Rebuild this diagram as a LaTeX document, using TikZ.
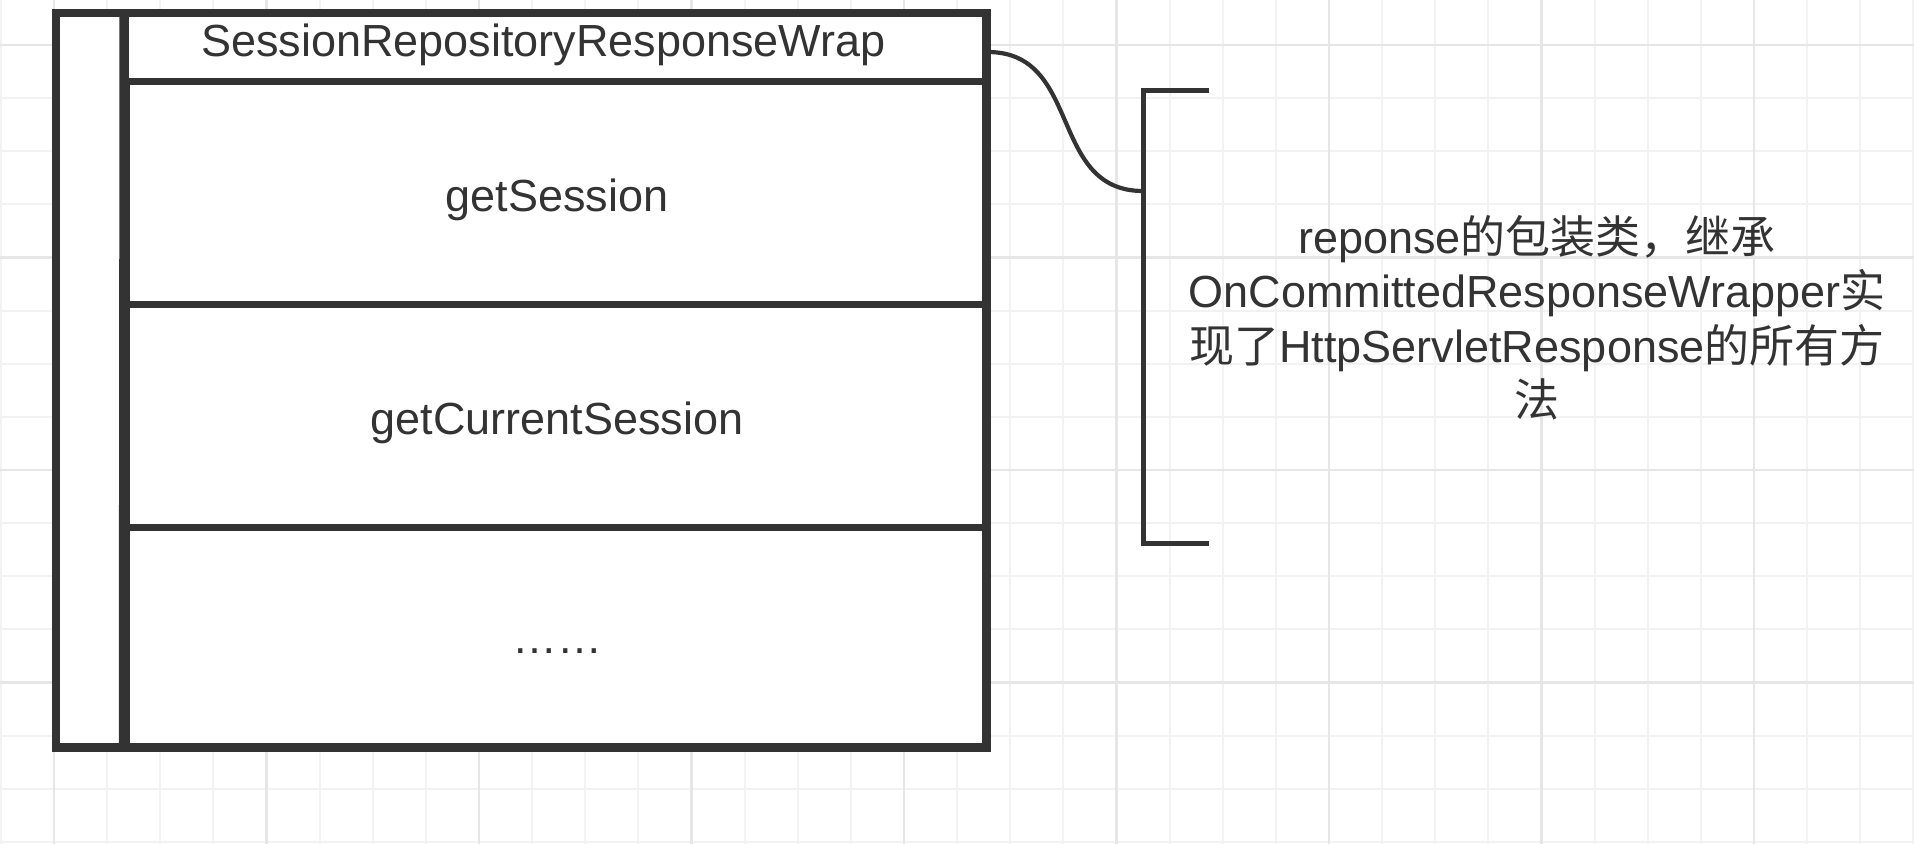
\documentclass[tikz,border=0pt]{standalone}
\usepackage{fontspec}
\setmainfont{Liberation Sans}
\newfontfamily\cjk{Noto Sans CJK SC}
\definecolor{ink}{HTML}{333333}
\definecolor{gridminor}{HTML}{F2F2F2}
\definecolor{gridmajor}{HTML}{E6E6E6}
\begin{document}
\begin{tikzpicture}[x=1pt,y=-1pt,
  minorline/.style={draw=gridminor, line width=2.2pt},
  majorline/.style={draw=gridmajor, line width=2.4pt},
  cell/.style={draw=ink, fill=white, line width=6pt, inner sep=0pt, rectangle},
  lbl/.style={text=ink, font=\fontsize{45}{54}\selectfont, inner sep=0pt, anchor=base},
  strokeline/.style={draw=ink, line width=5pt}]
\useasboundingbox (0,0) rectangle (1914,844);
\fill[white] (0,0) rectangle (1914,844);
% grid
\foreach \i in {0,...,36} \draw[minorline] (0.875+53.125*\i,0) -- (0.875+53.125*\i,844);
\foreach \j in {0,...,15} \draw[minorline] (0,45+53.125*\j) -- (1914,45+53.125*\j);
\foreach \m in {0,...,8} \draw[majorline] (54+212.5*\m,0) -- (54+212.5*\m,844);
\foreach \m in {0,...,3} \draw[majorline] (0,45+212.5*\m) -- (1914,45+212.5*\m);
% class box
\node[cell, line width=5.5pt, minimum width=928pt, minimum height=731.5pt] (box) at (521,380.25) {};
\node[cell, line width=5.5pt, minimum width=858.5pt, minimum height=67pt] (hdr) at (555.75,48) {};
\node[cell, line width=7pt, minimum width=858.5pt, minimum height=222.5pt] (row1) at (555.75,192.75) {};
\node[cell, line width=7pt, minimum width=858.5pt, minimum height=223pt] (row2) at (555.75,415.5) {};
\node[cell, line width=7pt, minimum width=858.5pt, minimum height=219pt] (row3) at (555.75,636.5) {};
\draw[ink, line width=5.5pt] (box.north west) rectangle (box.south east);
\draw[ink, line width=8.5pt] (hdr.north west) -- (row3.south west);
% labels
\node[lbl] (thdr) at (543.5,56.5) {SessionRepositoryResponseWrap};
\node[lbl] (t1) at (557,211) {getSession};
\node[lbl] (t2) at (557,434.5) {getCurrentSession};
\node[lbl] (t3) at (557,653) {……};
% annotation bracket
\coordinate (brtop) at (1209,90.3);
\coordinate (brtopc) at (1143,90.3);
\coordinate (brbotc) at (1143,543.5);
\coordinate (brbot) at (1209,543.5);
\coordinate (hook) at (1143,191);
\draw[strokeline] (brtop) -- (brtopc) -- (brbotc) -- (brbot);
\draw[ink, line width=4.2pt] ([yshift=-4pt]hdr.east) .. controls +(95,0) and +(-95,0) .. (hook);
% annotation text
\node[lbl] (a1) at (1537,253) {reponse{\cjk 的包装类，继承}};
\node[lbl] (a2) at (1537,307.5) {OnCommittedResponseWrapper{\cjk 实}};
\node[lbl] (a3) at (1537,362) {{\cjk 现了}HttpServletResponse{\cjk 的所有方}};
\node[lbl] (a4) at (1537,416.5) {{\cjk 法}};
\end{tikzpicture}
\end{document}
